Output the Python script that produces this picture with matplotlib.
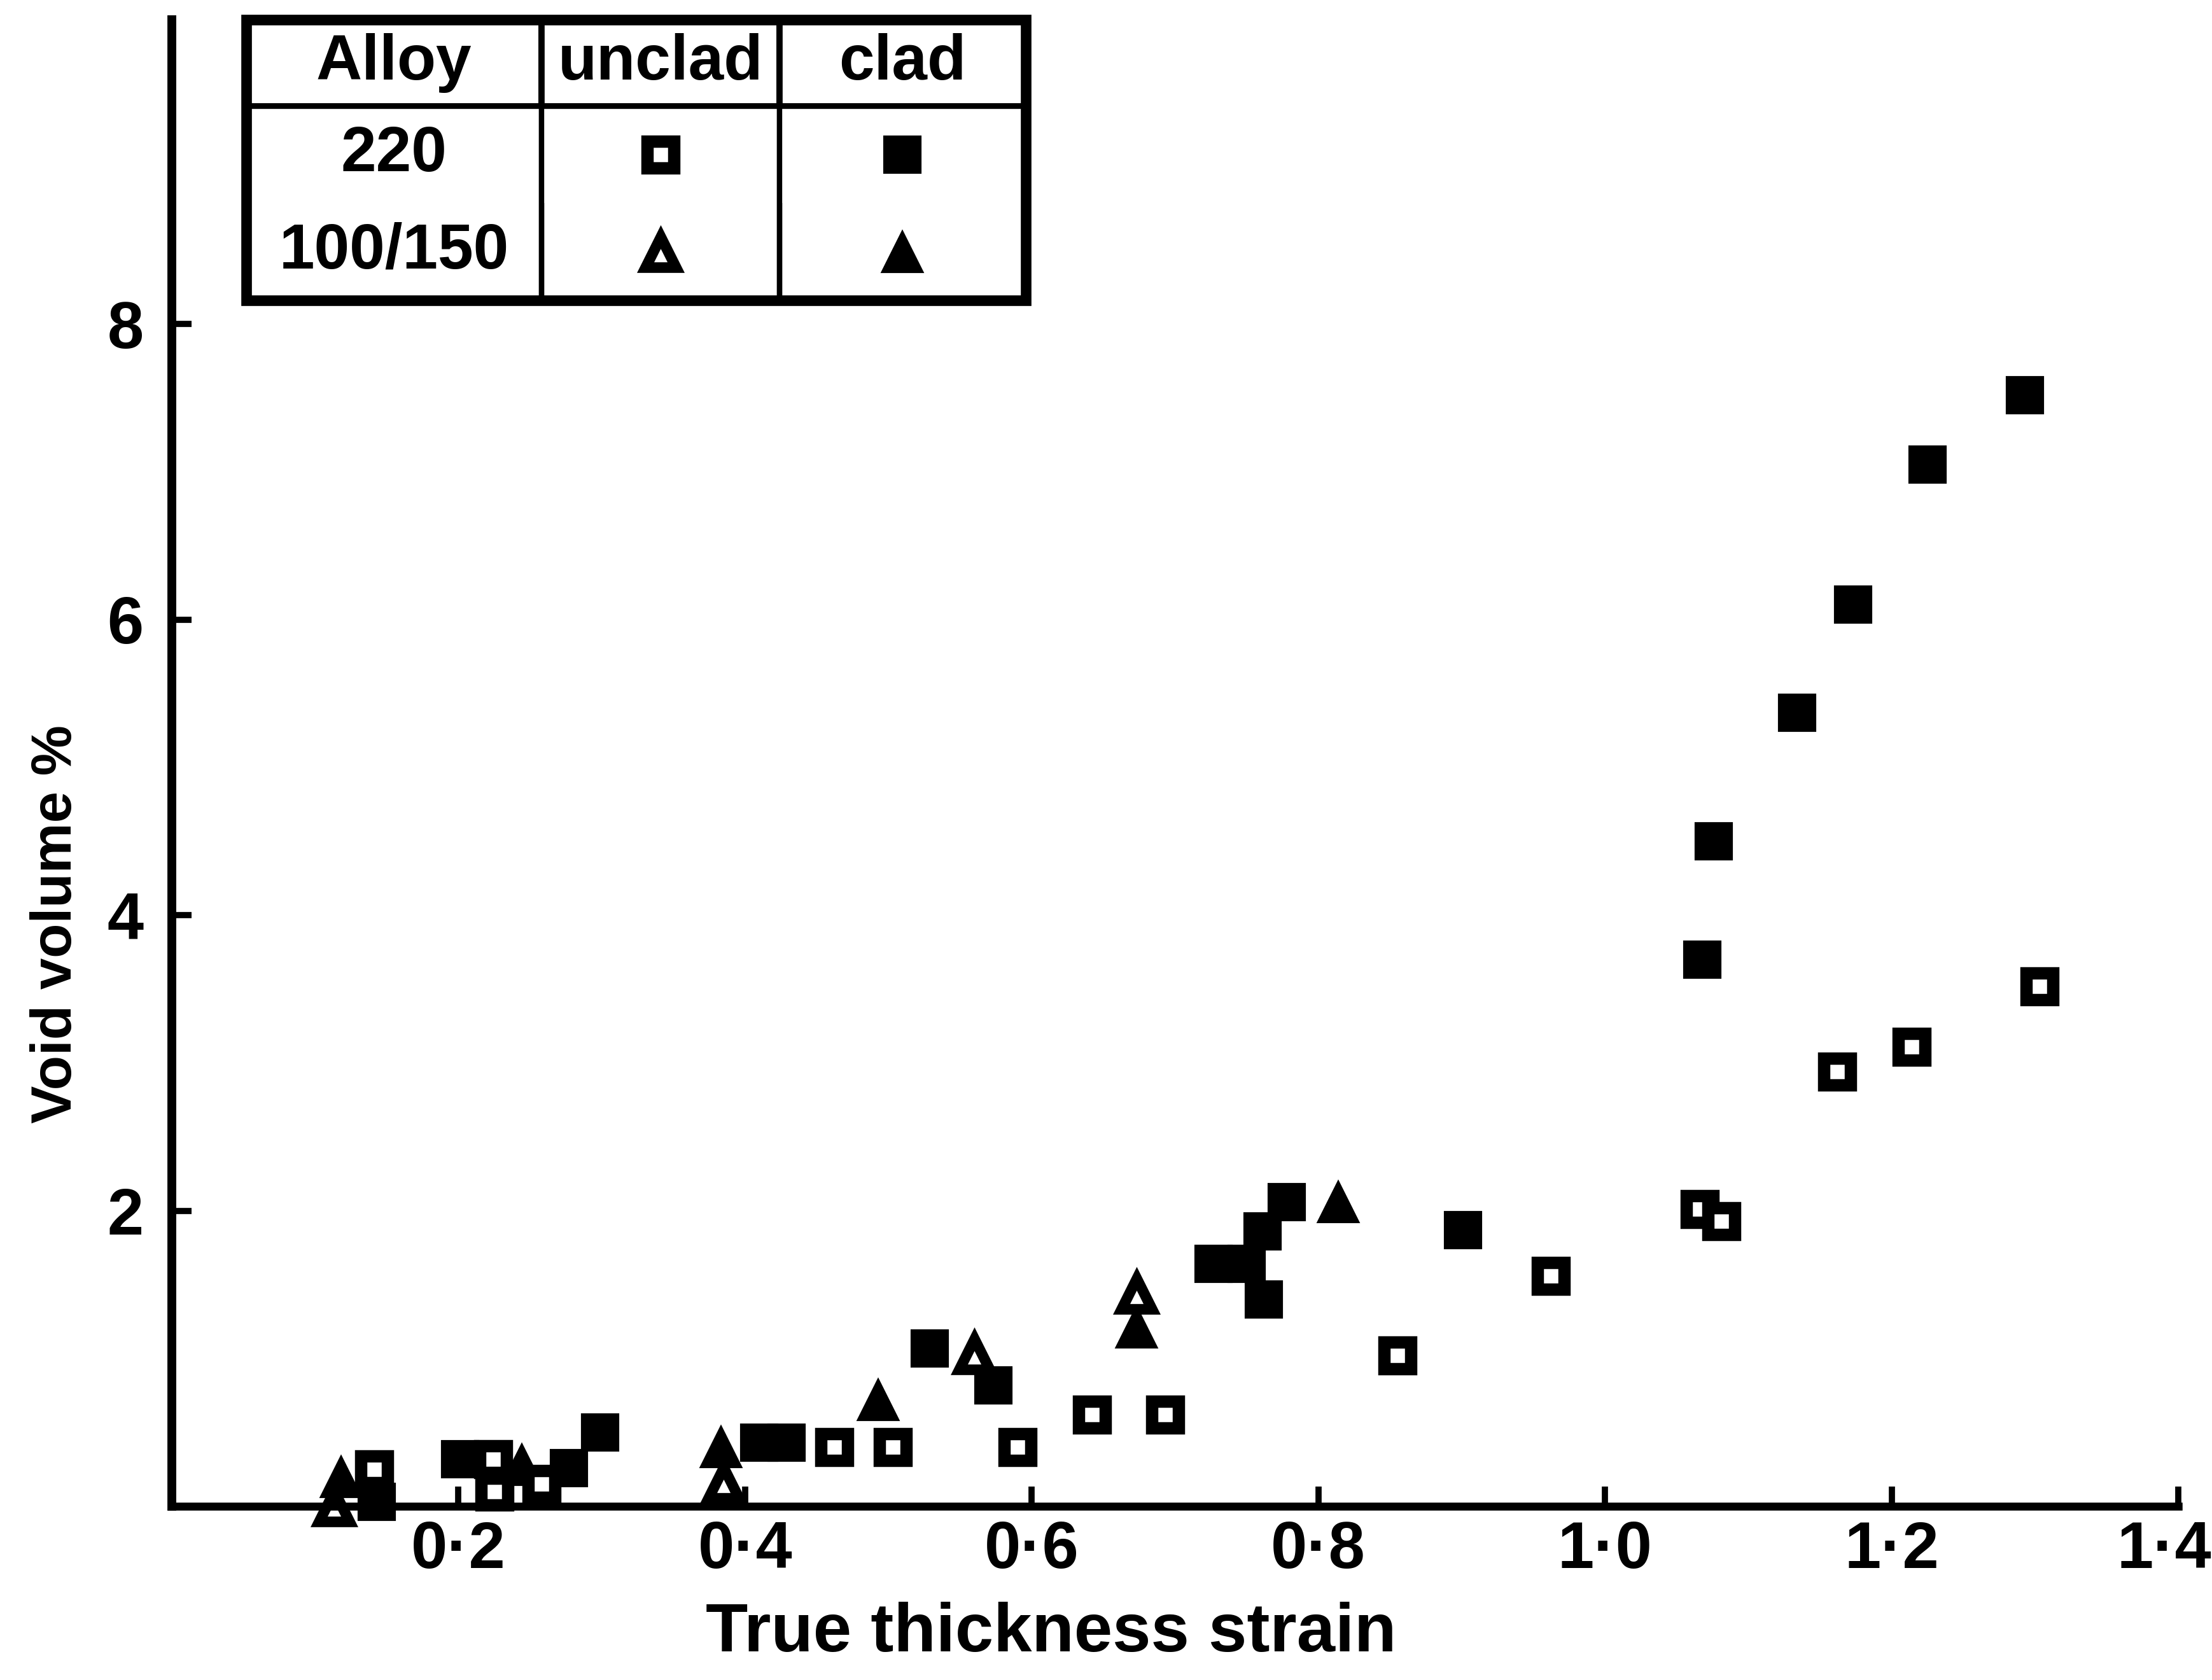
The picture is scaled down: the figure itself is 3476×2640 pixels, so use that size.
import matplotlib
matplotlib.use('Agg')
import matplotlib.pyplot as plt
import matplotlib.transforms as mtransforms
from matplotlib.patches import Rectangle

plt.rcParams['font.family'] = ['Liberation Sans', 'DejaVu Sans']
plt.rcParams['font.weight'] = 'bold'

# --- data ---
# alloy 220, clad (filled squares)
clad220_x = [0.143, 0.201, 0.277, 0.299, 0.410, 0.429, 0.529, 0.573, 0.727, 0.750,
             0.762, 0.761, 0.778, 0.901, 1.068, 1.076, 1.134, 1.173, 1.225, 1.293]
clad220_y = [0.03, 0.32, 0.26, 0.50, 0.43, 0.43, 1.07, 0.82, 1.64, 1.64,
             1.40, 1.86, 2.06, 1.87, 3.70, 4.50, 5.37, 6.10, 7.05, 7.52]
# alloy 220, unclad (open squares)
unclad220_x = [0.141, 0.224, 0.225, 0.258, 0.462, 0.503, 0.590, 0.642, 0.693,
               0.855, 0.962, 1.066, 1.081, 1.162, 1.214, 1.303]
unclad220_y = [0.25, 0.32, 0.10, 0.15, 0.40, 0.40, 0.40, 0.62, 0.62,
               1.02, 1.56, 2.01, 1.93, 2.94, 3.11, 3.52]
# alloy 100/150, clad (filled triangles)
clad100_x = [0.118, 0.244, 0.383, 0.493, 0.673, 0.814]
clad100_y = [0.20, 0.28, 0.40, 0.72, 1.21, 2.06]
# alloy 100/150, unclad (open triangles)
unclad100_x = [0.113, 0.385, 0.560, 0.673]
unclad100_y = [0.00, 0.16, 1.03, 1.44]

x_ticks = [0.2, 0.4, 0.6, 0.8, 1.0, 1.2, 1.4]
x_ticklabels = ['0·2', '0·4', '0·6', '0·8', '1·0', '1·2', '1·4']
y_ticks = [2, 4, 6, 8]
y_ticklabels = ['2', '4', '6', '8']

table_header = ['Alloy', 'unclad', 'clad']
table_alloys = ['220', '100/150']

# marker styles
open_sq = dict(marker='s', ms=15, mfc='white', mec='black', mew=7, ls='none', clip_on=False)
fill_sq = dict(marker='s', ms=20, mfc='black', mec='black', mew=1.5, ls='none', clip_on=False)
open_tri = dict(marker='^', ms=17, mfc='white', mec='black', mew=6, ls='none', clip_on=False)
fill_tri = dict(marker='^', ms=22, mfc='black', mec='black', mew=1.5, ls='none', clip_on=False)

fig = plt.figure(figsize=(17.38, 13.2), dpi=200)
ax = fig.add_axes([0.0777, 0.1034, 0.92, 0.8850])

ax.plot(unclad100_x, unclad100_y, **open_tri)
ax.plot(clad100_x, clad100_y, **fill_tri)
ax.plot(unclad220_x, unclad220_y, **open_sq)
ax.plot(clad220_x, clad220_y, **fill_sq)

ax.set_xlim(0, 1.42)
ax.set_ylim(0, 10.06)
for s in ['top', 'right']:
    ax.spines[s].set_visible(False)
ax.spines['left'].set_linewidth(5)
ax.spines['bottom'].set_linewidth(4.5)
ax.spines['bottom'].set_bounds(0, 1.4)

ax.set_xticks(x_ticks)
ax.set_xticklabels(x_ticklabels)
ax.set_yticks(y_ticks)
ax.set_yticklabels(y_ticklabels)
ax.tick_params(axis='both', direction='in', length=11, width=3.5, labelsize=37)
ax.tick_params(axis='x', pad=8)
ax.tick_params(axis='y', pad=16)
# keep the last x label inside the page, as in the scan
last = ax.get_xticklabels()[-1]
last.set_transform(last.get_transform() +
                   mtransforms.ScaledTranslation(-0.11, 0, fig.dpi_scale_trans))

fig.text(1652 / 3476, 1 - 2567 / 2640, 'True thickness strain',
         ha='center', va='center', fontsize=39, fontweight='bold')
fig.text(89 / 3476, 1 - 1452 / 2640, 'Void volume %', rotation=90,
         ha='center', va='center', fontsize=32, fontweight='bold')

# --- legend table ---
col_w = [0.379, 0.305, 0.316]
row_h = [0.308, 0.346, 0.346]
bbox = [0.0366, 0.811, 0.383, 0.189]
cells = [table_header] + [[a, '', ''] for a in table_alloys]
tbl = ax.table(cellText=cells, cellLoc='center', colWidths=col_w, bbox=bbox)
tbl.auto_set_font_size(False)
tbl.set_fontsize(36)
for (r, c), cell in tbl.get_celld().items():
    cell.set_linewidth(3)
    cell.set_height(row_h[r])
    cell.get_text().set_fontweight('bold')
    if r == 0:
        cell.set_linewidth(3.5)
    if r == 1:
        cell.visible_edges = 'LRT'
    elif r == 2:
        cell.visible_edges = 'LRB'
ax.add_patch(Rectangle((bbox[0], bbox[1]), bbox[2], bbox[3], transform=ax.transAxes,
                       fill=False, lw=6, ec='black', zorder=10, clip_on=False))

bx, by, bw, bh = bbox
cx_unclad = bx + bw * (col_w[0] + col_w[1] / 2)
cx_clad = bx + bw * (col_w[0] + col_w[1] + col_w[2] / 2)
cy_220 = by + bh * (row_h[2] + row_h[1] / 2)
cy_100 = by + bh * (row_h[2] / 2)
ax.plot([cx_unclad], [cy_220], transform=ax.transAxes, **open_sq)
ax.plot([cx_clad], [cy_220], transform=ax.transAxes, **fill_sq)
ax.plot([cx_unclad], [cy_100], transform=ax.transAxes, **open_tri)
ax.plot([cx_clad], [cy_100], transform=ax.transAxes, **fill_tri)

fig.savefig('out.png', dpi=200, facecolor='white')
